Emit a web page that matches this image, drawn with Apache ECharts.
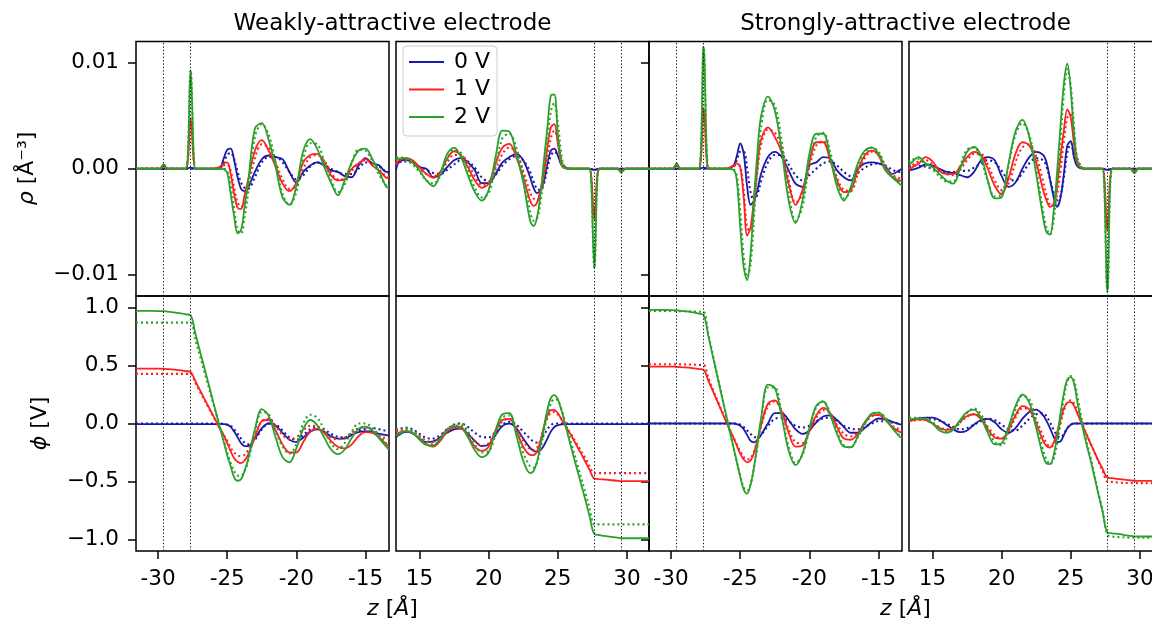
<!DOCTYPE html>
<html>
<head>
<meta charset="utf-8">
<script src="https://cdn.jsdelivr.net/npm/echarts@6/dist/echarts.min.js"></script>
<style>
  html, body { margin: 0; padding: 0; background: #ffffff; }
  #chart { width: 1152px; height: 624px; }
</style>
</head>
<body>
<div id="chart"></div>
<script>
// z positions (Å) sampled on the negative and the positive side of the cell
const zLeft = [-31.6, -30.5, -29.9, -29.6, -29.3, -28.5, -28.0, -27.65, -27.3, -27.0, -26.5, -26.0,
  -25.5, -25.25, -25.0, -24.75, -24.5, -24.25, -24.0, -23.75, -23.5, -23.0,
  -22.5, -22.0, -21.5, -21.0, -20.5, -20.0, -19.5, -19.0, -18.5, -18.0,
  -17.5, -17.0, -16.5, -16.0, -15.5, -15.0, -14.5, -14.0, -13.5, -13.3];
const zRight = [13.3, 13.5, 14.0, 14.5, 15.0, 15.5, 16.0, 16.5, 17.0, 17.5,
  18.0, 18.5, 19.0, 19.5, 20.0, 20.5, 21.0, 21.5, 22.0, 22.5,
  23.0, 23.25, 23.5, 23.75, 24.0, 24.25, 24.5, 24.75, 25.0, 25.25, 25.5,
  26.0, 26.5, 27.0, 27.3, 27.65, 28.0, 28.5, 29.3, 29.6, 29.9, 30.5, 31.6];

const voltages = ['0 V', '1 V', '2 V'];
const electrodeLayers = [-29.6, -27.65, 27.65, 29.6];
const zTicksLeft = [-30, -25, -20, -15];
const zTicksRight = [15, 20, 25, 30];
const rhoTicks = [-10, 0, 10];            // in 1e-3 Å^-3
const phiTicks = [-1, -0.5, 0, 0.5, 1];   // V

// Charge density rho, in units of 1e-3 Å^-3: values on zLeft, then on zRight.
// Suffix "dot" marks the dotted companion curve.
const rhoWeak0 = [0,0,0,0,0,0,0,0.1,0,0,0,0, 0.15,1.0,1.8,1.9,0.8,-0.8,-1.9,-2.1,-1.8,-0.3, 0.9,1.25,1.1,0.9,-0.3,-1.3,-0.3,0.3,0.6,0.3, -0.15,-0.3,-0.7,-0.8,0.3,1.0,0.5,0.3,-0.3,-0.3,
  -0.15,0.6,0.85,0.6,0.15,0.0,-0.8,-0.6,0.15,0.8, 1.0,0.6,-0.15,-1.35,-1.35,-0.5,0.6,1.1,1.4,0.8, -0.8,-1.8,-2.3,-2.0,-1.2,0.5,1.7,1.9,1.25,0.4,0.1, 0,0,0,0,-0.1,0,0,0,0,0,0,0];
const rhoWeak0dot = [0,0,0,0,0,0,0,0,0,0,0,0, 0.1,0.6,1.3,1.5,0.9,-0.3,-1.3,-1.8,-1.9,-0.8, 0.6,1.1,1.1,0.6,-0.3,-1.0,-0.6,0.2,0.6,0.4, 0.0,-0.3,-0.5,-0.5,0.0,0.6,0.5,0.2,-0.3,-0.4,
  0.3,0.6,0.7,0.5,0.2,-0.1,-0.4,-0.5,-0.1,0.4, 0.8,0.7,0.1,-0.8,-1.2,-0.6,0.3,0.9,1.2,0.8, -0.3,-1.2,-1.9,-2.0,-1.4,0.0,1.2,1.6,1.3,0.5,0.1, 0,0,0,0,-0.1,0,0,0,0,0,0,0];
const rhoWeak1 = [0,0,0,0.2,0,0,0,4.7,0,0,0,0, 0.2,0.5,0.6,-0.5,-2.4,-3.7,-3.8,-2.5,-1.1,1.7, 2.7,1.7,0.2,-1.4,-2.1,-1.3,0.6,1.3,1.4,0.6, -0.6,-1.1,-1.0,0.0,0.5,0.9,0.3,-0.2,-0.85,-0.9,
  0.3,0.8,1.0,0.8,0.15,-0.5,-0.85,-0.3,0.95,1.65, 1.25,0.15,-1.1,-1.8,-1.4,0.5,2.0,2.35,1.1,-0.8, -3.0,-3.5,-3.2,-2.0,-0.3,2.0,3.9,4.2,2.4,0.5,0.05, 0,0,0,0,-4.7,0,0,0,-0.2,0,0,0];
const rhoWeak1dot = [0,0,0,0.2,0,0,0,4.7,0,0,0,0, 0.1,0.3,0.4,-0.2,-1.8,-3.2,-3.6,-3.0,-1.8,1.0, 2.3,2.0,0.6,-1.0,-1.9,-1.6,0.0,1.1,1.3,0.8, -0.3,-1.0,-1.0,-0.2,0.5,0.8,0.5,-0.1,-0.7,-0.8,
  0.5,0.8,0.8,0.5,0.0,-0.5,-0.7,-0.3,0.6,1.3, 1.3,0.5,-0.7,-1.5,-1.4,-0.1,1.4,2.0,1.5,-0.2, -2.2,-2.8,-3.0,-2.3,-0.9,1.0,2.9,3.6,2.8,0.9,0.2, 0,0,0,0,-4.7,0,0,0,-0.2,0,0,0];
const rhoWeak2 = [0,0,0,0.4,0,0,0,9.3,0,0,0,0, 0,-0.05,-0.4,-2.4,-4.5,-6.1,-5.8,-3.6,-1.4,3.8, 4.3,2.7,0.15,-2.7,-3.4,-1.6,1.7,2.8,1.9,0.2, -1.3,-2.5,-1.1,0.6,1.7,1.9,0.9,-0.3,-1.7,-1.8,
  0.8,0.95,1.0,0.6,-0.15,-1.1,-1.65,-0.5,1.4,2.0, 1.1,-0.6,-2.2,-3.0,-2.0,1.1,3.6,3.5,1.4,-1.25, -4.9,-5.4,-4.6,-2.4,0.8,3.9,6.9,7.0,3.3,0.5,0.05, 0,0,0,0,-9.4,0,0,0,-0.35,0,0,0];
const rhoWeak2dot = [0,0,0,0.4,0,0,0,9.3,0,0,0,0, 0,0,-0.2,-1.6,-3.8,-5.8,-6.1,-4.6,-2.4,3.0, 4.2,3.2,0.6,-2.4,-3.4,-2.2,1.0,2.4,2.3,0.8, -1.0,-2.2,-1.5,0.5,1.8,1.7,0.7,-0.6,-1.6,-1.8,
  1.1,1.1,0.9,0.4,-0.3,-1.1,-1.4,-0.7,0.9,1.8, 1.5,-0.1,-1.8,-2.7,-2.3,0.2,2.9,3.3,2.0,-0.6, -4.0,-4.9,-4.7,-3.2,-0.5,2.6,5.4,6.2,4.4,1.5,0.2, 0,0,0,0,-9.4,0,0,0,-0.35,0,0,0];

const rhoStrong0 = [0,0,0,0,0,0,0,0.1,0,0,0,0, 0.3,1.2,2.4,1.4,-1.7,-3.4,-3.0,-2.0,-0.5,1.1, 1.6,1.1,-0.15,-1.4,-1.7,0.3,0.6,1.1,0.95,-0.15, -0.8,-1.1,0,0.5,0.6,0.5,0.2,-0.5,-0.15,0,
  -0.15,-0.1,0.1,0.4,0.3,0.0,-0.3,-0.4,-0.6,-0.8, -0.3,0.8,1.1,0.8,-0.7,-1.7,-1.3,0.0,1.1,1.6, 1.3,0.6,-1.0,-2.6,-3.6,-2.8,-0.5,2.2,2.6,1.0,0.2, 0,0,0,0,-0.1,0,0,0,0,0,0,0];
const rhoStrong0dot = [0,0,0,0,0,0,0,0,0,0,0,0, 0.2,0.8,1.6,1.6,0.0,-2.2,-3.0,-2.4,-1.2,0.6, 1.3,1.3,0.4,-0.6,-1.1,-0.6,0.0,0.5,0.7,0.3, -0.3,-0.7,-0.4,0.1,0.4,0.5,0.3,-0.1,-0.3,-0.2,
  0.2,0.3,0.3,0.2,0.0,-0.2,-0.3,-0.3,-0.2,-0.2, 0.1,0.5,0.8,0.6,-0.2,-1.0,-1.1,-0.4,0.5,1.0, 0.8,0.2,-1.0,-2.2,-3.0,-2.6,-0.8,1.5,2.4,1.2,0.3, 0,0,0,0,-0.1,0,0,0,0,0,0,0];
const rhoStrong1 = [0,0,0,0.3,0,0,0,5.7,0,0,0,0, 0.3,0.5,0.15,-2.7,-6.3,-5.5,-2.7,0.5,2.7,3.9, 3.0,1.5,-1.4,-3.4,-2.0,0.6,2.5,2.5,0.8,-1.1, -2.2,-2.0,-0.15,1.25,1.7,1.25,-0.15,-0.8,-1.1,-1.1,
  -0.15,0.1,0.5,1.1,0.7,-0.2,-0.5,-0.5,0.2,1.1, 1.6,1.3,0.0,-1.6,-2.4,-0.9,1.4,2.5,2.2,0.6, -2.0,-3.0,-3.6,-3.3,-1.6,1.0,3.6,5.6,4.8,2.2,0.4, 0,0,0,0,-5.8,0,0,0,-0.2,0,0,0];
const rhoStrong1dot = [0,0,0,0.3,0,0,0,5.7,0,0,0,0, 0.2,0.4,0.2,-2.0,-5.6,-5.8,-3.5,-0.3,2.2,3.7, 3.4,2.0,-1.0,-3.2,-2.4,0.2,2.2,2.6,1.2,-0.8, -2.0,-2.1,-0.5,1.0,1.6,1.4,0.2,-0.6,-0.9,-1.1,
  0.0,0.3,0.7,0.8,0.4,-0.2,-0.5,-0.6,-0.1,0.8, 1.4,1.4,0.4,-1.1,-2.0,-1.4,0.6,2.0,2.3,1.2, -1.2,-2.5,-3.4,-3.5,-2.5,-0.3,2.6,4.8,5.1,3.0,0.9, 0,0,0,0,-5.8,0,0,0,-0.2,0,0,0];
const rhoStrong2 = [0,0,0,0.5,0,0,0,11.5,0,0,0,0, -0.1,-1.1,-5.5,-9.3,-10.5,-8.0,-2.7,1.7,4.9,6.8, 5.5,1.7,-3.0,-5.1,-3.0,1.4,3.3,3.3,1.1,-1.7, -3.0,-1.7,0.5,1.7,2.0,1.4,-0.15,-0.8,-1.4,-1.6,
  0.3,0.6,1.1,0.5,0.15,-0.5,-1.1,-1.4,0,1.6, 2.05,1.25,-1.1,-2.8,-2.7,0.5,3.5,4.6,3.0,-0.5, -4.6,-6.0,-6.2,-4.2,-0.5,3.9,8.0,9.9,7.4,3.0,0.5, 0,0,0,0,-11.6,0,0,0,-0.4,0,0,0];
const rhoStrong2dot = [0,0,0,0.5,0,0,0,11.5,0,0,0,0, -0.05,-0.6,-4.0,-8.3,-10.2,-9.0,-4.5,0.3,3.8,6.5, 6.0,2.6,-2.2,-4.9,-3.6,0.6,3.0,3.4,1.6,-1.2, -2.8,-2.1,0.0,1.5,2.0,1.6,0.3,-0.6,-1.2,-1.4,
  0.6,0.9,0.9,0.3,-0.1,-0.7,-1.2,-1.2,0.3,1.8, 2.0,0.9,-1.2,-2.6,-2.4,0.3,3.2,4.3,3.2,0.0, -4.0,-5.6,-6.2,-5.0,-1.8,2.6,7.0,9.4,7.8,3.8,0.8, 0,0,0,0,-11.6,0,0,0,-0.4,0,0,0];

// Electrostatic potential phi (V): values on zLeft, then on zRight.
const phiWeak0 = [-0.005,-0.005,-0.005,-0.005,-0.005,-0.005,-0.005,-0.005,-0.005,-0.005,-0.005,-0.005, -0.004,-0.005,-0.01,-0.03,-0.07,-0.12,-0.17,-0.195,-0.195,-0.13, -0.04,0.0,-0.02,-0.08,-0.14,-0.16,-0.12,-0.07,-0.05,-0.07, -0.11,-0.13,-0.13,-0.1,-0.075,-0.065,-0.07,-0.09,-0.1,-0.105,
  -0.12,-0.1,-0.072,-0.085,-0.13,-0.16,-0.155,-0.12,-0.08,-0.05, -0.045,-0.09,-0.15,-0.195,-0.18,-0.1,-0.02,0.0,-0.04,-0.13, -0.21,-0.235,-0.244,-0.23,-0.19,-0.13,-0.07,-0.03,-0.015,-0.008,-0.005, -0.005,-0.005,-0.005,-0.005,-0.005,-0.005,-0.005,-0.005,-0.005,-0.005,-0.005,-0.005];
const phiWeak0dot = [0,0,0,0,0,0,0,0,0,0,0,0, 0.0,-0.005,-0.01,-0.02,-0.05,-0.09,-0.13,-0.165,-0.18,-0.14, -0.05,0.0,-0.01,-0.06,-0.12,-0.14,-0.1,-0.05,-0.03,-0.05, -0.09,-0.115,-0.12,-0.09,-0.06,-0.045,-0.04,-0.05,-0.06,-0.06,
  -0.06,-0.05,-0.035,-0.05,-0.09,-0.125,-0.13,-0.1,-0.05,-0.01, 0.0,-0.03,-0.08,-0.115,-0.12,-0.07,-0.01,0.015,-0.01,-0.07, -0.13,-0.155,-0.164,-0.15,-0.1,-0.05,-0.015,0.0,0.0,0.0,0.0, 0,0,0,0,0,0,0,0,0,0,0,0];
const phiWeak1 = [0.474,0.474,0.473,0.472,0.470,0.461,0.452,0.445,0.364,0.294,0.178,0.064, -0.05,-0.10,-0.17,-0.24,-0.30,-0.33,-0.342,-0.32,-0.27,-0.12, 0.02,0.03,-0.06,-0.18,-0.25,-0.25,-0.16,-0.07,-0.045,-0.08, -0.15,-0.2,-0.215,-0.18,-0.11,-0.075,-0.08,-0.12,-0.18,-0.2,
  -0.09,-0.08,-0.065,-0.08,-0.13,-0.18,-0.2,-0.15,-0.07,-0.035, -0.04,-0.11,-0.2,-0.236,-0.2,-0.06,0.03,0.04,-0.06,-0.2, -0.27,-0.273,-0.24,-0.15,-0.03,0.07,0.115,0.118,0.09,0.04,-0.01, -0.11,-0.22,-0.33,-0.40,-0.474,-0.479,-0.485,-0.494,-0.497,-0.497,-0.497,-0.497];
const phiWeak1dot = [0.428,0.428,0.428,0.428,0.428,0.428,0.428,0.428,0.35,0.28,0.17,0.06, -0.05,-0.10,-0.15,-0.21,-0.25,-0.275,-0.28,-0.27,-0.23,-0.11, 0.02,0.04,-0.02,-0.10,-0.135,-0.12,-0.06,-0.02,-0.025,-0.07, -0.12,-0.135,-0.12,-0.08,-0.04,-0.035,-0.06,-0.1,-0.13,-0.135,
  -0.07,-0.06,-0.05,-0.07,-0.11,-0.15,-0.16,-0.12,-0.05,-0.02, -0.02,-0.08,-0.15,-0.19,-0.17,-0.07,0.02,0.04,-0.03,-0.15, -0.22,-0.23,-0.21,-0.14,-0.04,0.05,0.09,0.1,0.08,0.04,-0.01, -0.1,-0.2,-0.3,-0.37,-0.428,-0.428,-0.428,-0.428,-0.428,-0.428,-0.428,-0.428];
const phiWeak2 = [0.971,0.971,0.970,0.969,0.966,0.953,0.942,0.934,0.774,0.637,0.41,0.18, -0.05,-0.16,-0.276,-0.37,-0.465,-0.494,-0.48,-0.41,-0.31,-0.05, 0.124,0.066,-0.121,-0.29,-0.335,-0.214,-0.047,0.03,-0.014,-0.117, -0.223,-0.264,-0.224,-0.126,-0.046,-0.027,-0.06,-0.13,-0.2,-0.227,
  -0.106,-0.09,-0.065,-0.08,-0.14,-0.185,-0.19,-0.13,-0.06,-0.025, -0.03,-0.12,-0.23,-0.29,-0.25,-0.06,0.08,0.09,-0.1,-0.32, -0.428,-0.41,-0.33,-0.19,-0.03,0.12,0.22,0.245,0.21,0.12,0.01, -0.22,-0.44,-0.66,-0.80,-0.954,-0.962,-0.972,-0.985,-0.99,-0.99,-0.99,-0.99];
const phiWeak2dot = [0.87,0.87,0.87,0.87,0.87,0.87,0.87,0.87,0.72,0.595,0.38,0.17, -0.04,-0.14,-0.25,-0.34,-0.41,-0.45,-0.45,-0.41,-0.33,-0.08, 0.10,0.08,-0.07,-0.2,-0.26,-0.18,0.0,0.075,0.05,-0.05, -0.17,-0.22,-0.17,-0.07,0.0,0.0,-0.04,-0.1,-0.17,-0.19,
  -0.05,-0.045,-0.04,-0.06,-0.11,-0.16,-0.18,-0.14,-0.06,-0.01, 0.0,-0.07,-0.18,-0.25,-0.24,-0.1,0.05,0.07,-0.05,-0.25, -0.37,-0.38,-0.34,-0.22,-0.07,0.07,0.17,0.21,0.2,0.13,0.03, -0.18,-0.39,-0.6,-0.73,-0.87,-0.87,-0.87,-0.87,-0.87,-0.87,-0.87,-0.87];

const phiStrong0 = [0,0,0,0,0,0,0,0,0,0,0,0, 0.0,-0.005,-0.02,-0.05,-0.1,-0.15,-0.162,-0.14,-0.1,0.0, 0.09,0.09,0.03,-0.05,-0.09,-0.06,0.01,0.06,0.07,0.03, -0.03,-0.08,-0.08,-0.04,0.01,0.043,0.035,0.015,-0.005,-0.01,
  0.03,0.035,0.045,0.05,0.05,0.03,-0.01,-0.05,-0.075,-0.06, -0.01,0.03,0.04,0.01,-0.05,-0.08,-0.04,0.04,0.1,0.12, 0.07,0.02,-0.04,-0.11,-0.16,-0.155,-0.1,-0.04,-0.01,0.0,0.0, 0,0,0,0,0,0,0,0,0,0,0,0];
const phiStrong0dot = [0,0,0,0,0,0,0,0,0,0,0,0, 0.0,0.0,-0.01,-0.03,-0.06,-0.09,-0.115,-0.12,-0.1,-0.02, 0.04,0.05,0.02,-0.02,-0.035,-0.02,0.02,0.045,0.05,0.02, -0.02,-0.045,-0.05,-0.03,0.0,0.02,0.02,0.01,0.0,-0.005,
  0.03,0.035,0.04,0.045,0.04,0.025,0.0,-0.03,-0.05,-0.04, -0.01,0.02,0.04,0.03,-0.01,-0.05,-0.06,-0.02,0.04,0.08, 0.09,0.06,0.01,-0.05,-0.1,-0.12,-0.09,-0.04,-0.01,0.0,0.0, 0,0,0,0,0,0,0,0,0,0,0,0];
const phiStrong1 = [0.491,0.491,0.49,0.489,0.486,0.478,0.47,0.463,0.367,0.285,0.148,0.01, -0.12,-0.19,-0.26,-0.31,-0.335,-0.32,-0.25,-0.14,-0.02,0.17, 0.2,0.1,-0.08,-0.2,-0.19,-0.06,0.07,0.135,0.09,-0.03, -0.13,-0.14,-0.09,0.01,0.07,0.075,0.03,-0.03,-0.07,-0.078,
  0.02,0.025,0.035,0.03,0.0,-0.04,-0.055,-0.04,0.02,0.065, 0.08,0.04,-0.05,-0.12,-0.13,-0.05,0.07,0.15,0.12,0.0, -0.15,-0.195,-0.207,-0.17,-0.08,0.03,0.13,0.18,0.185,0.15,0.08, -0.06,-0.19,-0.32,-0.39,-0.466,-0.472,-0.48,-0.49,-0.494,-0.495,-0.495,-0.495];
const phiStrong1dot = [0.511,0.511,0.511,0.51,0.51,0.508,0.506,0.505,0.39,0.3,0.155,0.015, -0.12,-0.18,-0.24,-0.29,-0.31,-0.3,-0.24,-0.14,-0.03,0.15, 0.19,0.11,-0.05,-0.16,-0.17,-0.07,0.05,0.115,0.09,-0.01, -0.09,-0.11,-0.08,0.0,0.06,0.075,0.04,-0.02,-0.05,-0.06,
  0.02,0.025,0.03,0.03,0.0,-0.03,-0.05,-0.04,0.01,0.06, 0.08,0.05,-0.03,-0.1,-0.13,-0.07,0.05,0.13,0.13,0.03, -0.11,-0.17,-0.2,-0.19,-0.12,-0.01,0.11,0.18,0.2,0.17,0.1, -0.05,-0.19,-0.33,-0.41,-0.5,-0.505,-0.51,-0.514,-0.514,-0.514,-0.514,-0.514];
const phiStrong2 = [0.98,0.98,0.978,0.976,0.972,0.96,0.948,0.937,0.75,0.59,0.325,0.06, -0.2,-0.33,-0.46,-0.57,-0.605,-0.527,-0.372,-0.17,0.04,0.335, 0.307,0.057,-0.233,-0.359,-0.262,-0.039,0.153,0.19,0.074,-0.089, -0.2,-0.205,-0.111,0.003,0.083,0.093,0.04,-0.04,-0.11,-0.13,
  0.03,0.035,0.045,0.04,0.0,-0.06,-0.08,-0.05,0.03,0.1, 0.12,0.05,-0.08,-0.18,-0.17,-0.03,0.15,0.25,0.18,-0.04, -0.28,-0.345,-0.35,-0.28,-0.12,0.08,0.26,0.38,0.40,0.34,0.17, -0.11,-0.35,-0.61,-0.76,-0.94,-0.947,-0.955,-0.97,-0.974,-0.975,-0.975,-0.975];
const phiStrong2dot = [0.972,0.972,0.971,0.97,0.969,0.967,0.965,0.963,0.77,0.6,0.33,0.06, -0.2,-0.33,-0.45,-0.55,-0.58,-0.52,-0.38,-0.19,0.01,0.31, 0.31,0.08,-0.2,-0.34,-0.27,-0.06,0.14,0.19,0.09,-0.07, -0.19,-0.205,-0.12,-0.01,0.08,0.095,0.05,-0.03,-0.1,-0.12,
  0.05,0.05,0.05,0.04,0.01,-0.04,-0.07,-0.06,0.01,0.09, 0.13,0.08,-0.05,-0.16,-0.19,-0.07,0.12,0.24,0.21,0.02, -0.23,-0.31,-0.35,-0.31,-0.18,0.02,0.22,0.36,0.41,0.37,0.22, -0.08,-0.33,-0.6,-0.75,-0.96,-0.975,-0.98,-0.985,-0.985,-0.985,-0.985,-0.985];

// ---------------------------------------------------------------------------
const FONT = "'DejaVu Sans', sans-serif";
const colors = ['#1a1aa8', '#ff2020', '#2ca02c'];
const gridLeft = [136, 396, 649, 909];
const PANEL_W = 253;
const rowTop = [41.5, 296];
const rowH = [254.5, 255];

const rhoSets = {
  weak: [[rhoWeak0, rhoWeak0dot], [rhoWeak1, rhoWeak1dot], [rhoWeak2, rhoWeak2dot]],
  strong: [[rhoStrong0, rhoStrong0dot], [rhoStrong1, rhoStrong1dot], [rhoStrong2, rhoStrong2dot]]
};
const phiSets = {
  weak: [[phiWeak0, phiWeak0dot], [phiWeak1, phiWeak1dot], [phiWeak2, phiWeak2dot]],
  strong: [[phiStrong0, phiStrong0dot], [phiStrong1, phiStrong1dot], [phiStrong2, phiStrong2dot]]
};

const minusSign = s => s.replace('-', '\u2212');
const tickLine = { color: '#000', width: 1.5 };
const labelStyle = { color: '#000', fontFamily: FONT, fontSize: 21.5, lineHeight: 22 };

const grids = [], xAxes = [], yAxes = [], series = [];

for (let r = 0; r < 2; r++) {
  for (let c = 0; c < 4; c++) {
    const g = r * 4 + c;
    const isLeftHalf = c % 2 === 0;
    const electrode = c < 2 ? 'weak' : 'strong';
    const zs = isLeftHalf ? zLeft : zRight;
    const zTicks = isLeftHalf ? zTicksLeft : zTicksRight;

    grids.push({
      left: gridLeft[c], top: rowTop[r], width: PANEL_W, height: rowH[r],
      outerBoundsMode: 'none', containLabel: false,
      show: true, borderColor: '#000', borderWidth: 1.5, backgroundColor: 'transparent'
    });

    xAxes.push({
      gridIndex: g, type: 'value', position: 'bottom',
      min: isLeftHalf ? -31.6 : 13.3, max: isLeftHalf ? -13.3 : 31.6,
      axisLine: { show: false, onZero: false }, splitLine: { show: false },
      axisTick: { show: r === 1, length: 8, lineStyle: tickLine, customValues: zTicks },
      axisLabel: Object.assign({ show: r === 1, margin: 17, customValues: zTicks,
        formatter: v => String(v) }, labelStyle)
    });

    const yTicks = r === 0 ? rhoTicks : phiTicks;
    yAxes.push({
      gridIndex: g, type: 'value', position: 'left',
      min: r === 0 ? -12 : -1.1, max: r === 0 ? 12 : 1.1,
      axisLine: { show: false, onZero: false }, splitLine: { show: false },
      axisTick: { show: isLeftHalf, length: 8, lineStyle: tickLine, customValues: yTicks },
      axisLabel: Object.assign({ show: c === 0, margin: 17, customValues: yTicks,
        formatter: r === 0 ? (v => minusSign((v / 1000).toFixed(2))) : (v => minusSign(v.toFixed(1))) },
        labelStyle)
    });

    const sets = (r === 0 ? rhoSets : phiSets)[electrode];
    const layers = electrodeLayers.filter(z => isLeftHalf ? z < 0 : z > 0);
    sets.forEach((pair, v) => {
      pair.forEach((vals, s) => {
        const part = isLeftHalf ? vals.slice(0, zLeft.length) : vals.slice(zLeft.length);
        const item = {
          type: 'line',
          name: s === 0 ? voltages[v] : voltages[v] + ' (dotted)',
          xAxisIndex: g, yAxisIndex: g,
          data: zs.map((z, i) => [z, part[i]]),
          showSymbol: false, symbol: 'none',
          smooth: 0.35,
          itemStyle: { color: colors[v] },
          lineStyle: s === 0
            ? { color: colors[v], width: 1.8 }
            : { color: colors[v], width: 2.1, type: [2, 3] },
          z: 2 + v,
          animation: false,
          silent: true
        };
        if (v === 0 && s === 0) {
          item.markLine = {
            silent: true, symbol: ['none', 'none'], animation: false,
            label: { show: false },
            lineStyle: { color: '#222', width: 1, type: [1.4, 2] },
            data: layers.map(z => ({ xAxis: z }))
          };
        }
        series.push(item);
      });
    });
  }
}

const italic = { fontStyle: 'italic', fontFamily: FONT, fontSize: 22, color: '#000' };
function label(x, y, text, rotation, size) {
  const fs = size || 22;
  return {
    type: 'text', x: x, y: y, rotation: rotation || 0, silent: true,
    style: {
      text: text, fill: '#000', font: fs + 'px ' + FONT,
      fontFamily: FONT, fontSize: fs,
      align: 'center', verticalAlign: 'middle',
      textAlign: 'center', textVerticalAlign: 'middle',
      rich: { i: italic }
    }
  };
}

const option = {
  animation: false,
  backgroundColor: '#ffffff',
  grid: grids,
  xAxis: xAxes,
  yAxis: yAxes,
  series: series,
  legend: {
    data: voltages,
    left: 403, top: 46,
    orient: 'vertical',
    icon: 'rect', itemWidth: 35, itemHeight: 2, itemGap: 5.5,
    selectedMode: false,
    padding: [5, 7, 8, 6],
    backgroundColor: 'rgba(255,255,255,0.8)',
    borderColor: '#cccccc', borderWidth: 1, borderRadius: 4,
    textStyle: { color: '#000', fontFamily: FONT, fontSize: 22, lineHeight: 22, padding: [0, 0, 0, 5] }
  },
  graphic: [
    label(392.5, 24.5, 'Weakly-attractive electrode', 0, 23),
    label(905.5, 24.5, 'Strongly-attractive electrode', 0, 23),
    label(27, 168.5, '{i|\u03c1} [\u00c5\u207b\u00b3]', Math.PI / 2),
    label(40, 423.5, '{i|\u03d5} [V]', Math.PI / 2),
    label(392.5, 609.5, '{i|z} [{i|\u00c5}]'),
    label(905.5, 609.5, '{i|z} [{i|\u00c5}]')
  ]
};

const chart = echarts.init(document.getElementById('chart'), null, { renderer: 'canvas' });
chart.setOption(option);
</script>
</body>
</html>
